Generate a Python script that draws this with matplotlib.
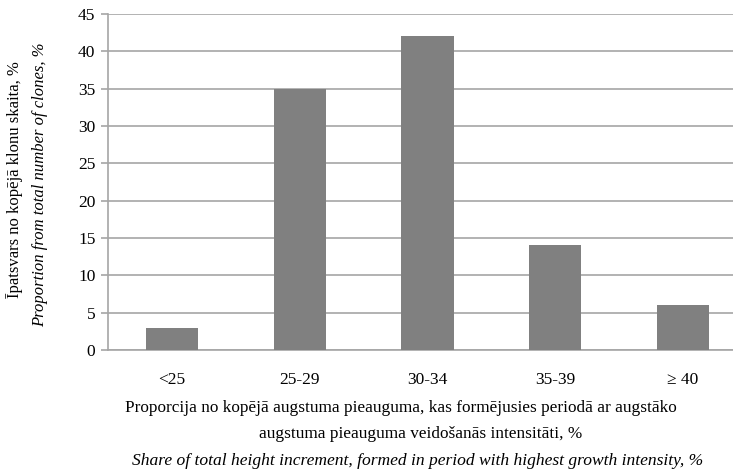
import matplotlib
matplotlib.use("Agg")
import matplotlib.pyplot as plt

categories = ["<25", "25-29", "30-34", "35-39", "≥ 40"]
values = [3, 35, 42, 14, 6]
yticks = [0, 5, 10, 15, 20, 25, 30, 35, 40, 45]

plt.rcParams['font.family'] = ['Liberation Serif', 'DejaVu Serif']

W, H = 733, 474
fig = plt.figure(figsize=(W/100, H/100), dpi=100)
ax = fig.add_axes([108/W, 1-350/H, (747-108)/W, (350-14)/H])

x = list(range(len(categories)))
ax.bar(x, values, width=0.41, color="#808080", zorder=3)
ax.set_xlim(-0.5, 4.5)
ax.set_ylim(0, 45)
ax.set_yticks(yticks)
ax.yaxis.grid(True, color="#a6a6a6", linewidth=1.2, zorder=0)
ax.set_xticks(x)
ax.set_xticklabels(categories, fontsize=12.5)
ax.tick_params(axis='x', length=0, pad=16)
ax.tick_params(axis='y', length=5, width=1.2, color="#a6a6a6", labelsize=12.5, pad=4)
for s in ["top", "right"]:
    ax.spines[s].set_visible(False)
for s in ["left", "bottom"]:
    ax.spines[s].set_color("#a6a6a6")
    ax.spines[s].set_linewidth(1.2)

fig.text(401/W, 1-408/H, "Proporcija no kopējā augstuma pieauguma, kas formējusies periodā ar augstāko",
         ha="center", va="center", fontsize=12.4)
fig.text(421/W, 1-434/H, "augstuma pieauguma veidošanās intensitāti, %",
         ha="center", va="center", fontsize=12.4)
fig.text(418/W, 1-461/H, "Share of total height increment, formed in period with highest growth intensity, %",
         ha="center", va="center", fontsize=12.6, style="italic")
fig.text(15/W, 1-180/H, "Īpatsvars no kopējā klonu skaita, %", rotation=90,
         ha="center", va="center", fontsize=12)
fig.text(40/W, 1-185/H, "Proportion from total number of clones, %", rotation=90,
         ha="center", va="center", fontsize=12, style="italic")

fig.savefig("out.png", dpi=100)
